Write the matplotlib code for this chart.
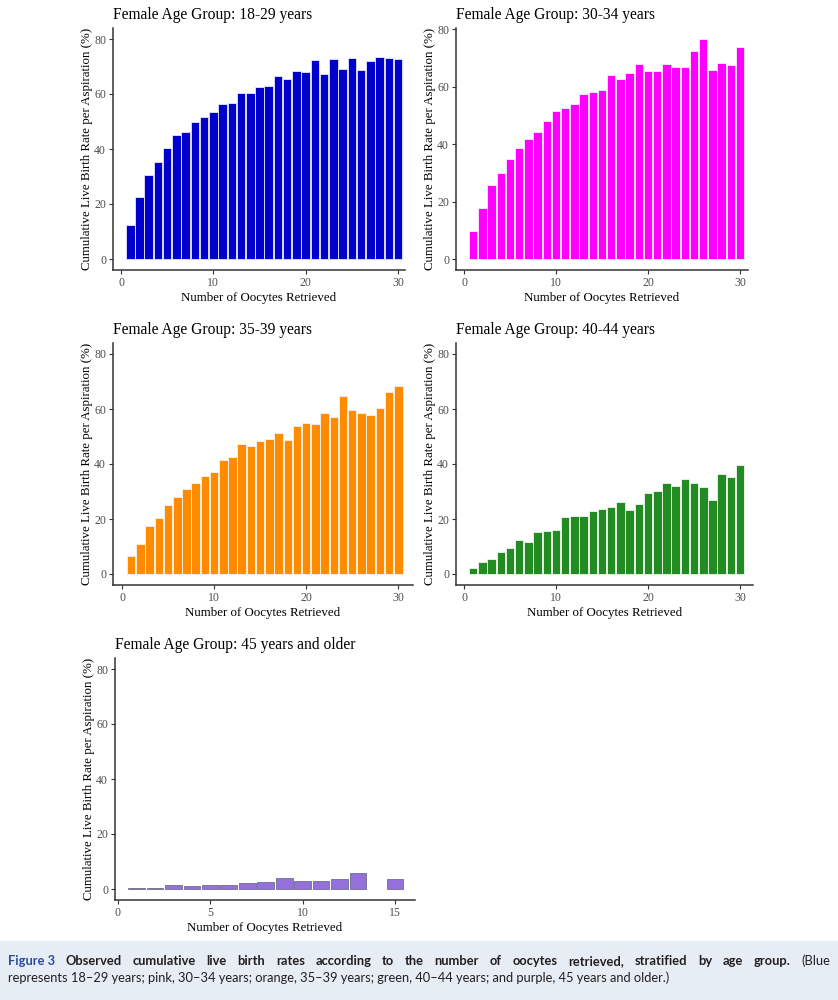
import matplotlib
matplotlib.use("Agg")
import matplotlib.pyplot as plt

# ---------------- data ----------------
x30 = list(range(1, 31))
rate_18_29 = [12.2, 22.7, 30.5, 35.2, 40.2, 45.2, 46.2, 49.9, 51.5, 53.5, 56.2, 56.8, 60.4, 60.4, 62.4,
              62.8, 66.5, 65.6, 68.5, 68.1, 72.2, 67.3, 72.6, 69.1, 73.2, 68.7, 72.0, 73.6, 73.2, 72.6]
rate_30_34 = [9.7, 17.7, 25.9, 30.1, 34.7, 38.7, 41.8, 44.2, 48.0, 51.4, 52.5, 53.8, 57.3, 58.2, 58.8,
              64.2, 62.5, 64.6, 67.8, 65.4, 65.4, 67.8, 66.9, 66.9, 72.3, 76.5, 65.7, 68.2, 67.5, 73.8]
rate_35_39 = [6.4, 11.0, 17.3, 20.2, 25.1, 27.9, 31.0, 33.0, 35.5, 37.1, 41.5, 42.4, 47.4, 46.4, 48.2,
              49.0, 51.2, 48.6, 53.7, 54.9, 54.5, 58.7, 57.1, 64.8, 59.8, 58.7, 57.7, 60.2, 66.2, 68.5]
rate_40_44 = [2.1, 4.2, 5.3, 8.0, 9.3, 12.2, 11.8, 15.3, 15.6, 16.0, 20.6, 21.0, 21.0, 22.8, 23.5,
              24.5, 26.1, 23.2, 25.5, 29.5, 30.1, 33.0, 31.9, 34.7, 33.2, 31.6, 26.9, 36.2, 35.3, 39.6]
x45 = [1, 2, 3, 4, 5, 6, 7, 8, 9, 10, 11, 12, 13, 15]
rate_45 = [0.2, 0.2, 1.4, 1.1, 1.4, 1.4, 2.2, 2.7, 4.1, 3.0, 3.0, 3.6, 5.8, 3.6]

titles = ["Female Age Group: 18-29 years", "Female Age Group: 30-34 years",
          "Female Age Group: 35-39 years", "Female Age Group: 40-44 years",
          "Female Age Group: 45 years and older"]
colors = ["#0000CD", "#FF00FF", "#FF8C00", "#228B22", "#9370DB"]
xlabel = "Number of Oocytes Retrieved"
ylabel = "Cumulative Live Birth Rate per Aspiration (%)"
yticks = [0, 20, 40, 60, 80]
xticks30 = [0, 10, 20, 30]
xticks15 = [0, 5, 10, 15]

# ---------------- layout ----------------
W, H = 838, 1000
fig = plt.figure(figsize=(W / 100, H / 100), dpi=100)
fig.patch.set_facecolor("white")

SERIF = ["Liberation Serif", "DejaVu Serif"]
SANS = ["Lato", "DejaVu Sans"]

# panel boxes in pixels: left, right, top, bottom, xlim, ylim
panels = [
    dict(box=(113, 405, 28, 270), xlim=(-0.87, 30.76), ylim=(-4.0, 84.0), x=x30, y=rate_18_29, xt=xticks30),
    dict(box=(456, 748, 28, 270), xlim=(-0.87, 30.87), ylim=(-3.8, 80.4), x=x30, y=rate_30_34, xt=xticks30),
    dict(box=(113, 413, 343, 585), xlim=(-0.98, 31.6), ylim=(-4.0, 84.0), x=x30, y=rate_35_39, xt=xticks30),
    dict(box=(456, 753, 343, 585), xlim=(-0.87, 31.4), ylim=(-4.0, 84.0), x=x30, y=rate_40_44, xt=xticks30),
    dict(box=(115, 415, 658, 900), xlim=(-0.16, 16.08), ylim=(-4.0, 84.0), x=x45, y=rate_45, xt=xticks15),
]

for i, p in enumerate(panels):
    l, r, t, b = p["box"]
    ax = fig.add_axes([l / W, 1 - b / H, (r - l) / W, (b - t) / H])
    if i < 4:
        ax.bar(p["x"], p["y"], width=0.92, color=colors[i], edgecolor="#E8E8FF" if i == 0 else "#F4F4F4",
               linewidth=0.6, zorder=2)
    else:
        ax.bar(p["x"], p["y"], width=0.9, color=colors[i], edgecolor="#6E6E8E", linewidth=0.6, zorder=2)
    ax.set_xlim(*p["xlim"])
    ax.set_ylim(*p["ylim"])
    ax.set_xticks(p["xt"])
    ax.set_yticks(yticks)
    for s in ["top", "right"]:
        ax.spines[s].set_visible(False)
    for s in ["left", "bottom"]:
        ax.spines[s].set_color("#333333")
        ax.spines[s].set_linewidth(1.1)
    ax.tick_params(axis="both", direction="out", length=3, width=0.8, color="#333333",
                   labelcolor="#4D4D4D", labelsize=8.5, pad=2)
    for lab in ax.get_xticklabels() + ax.get_yticklabels():
        lab.set_fontfamily(SERIF)
    ax.set_xlabel(xlabel, fontsize=9.3, family=SERIF, color="black", labelpad=2)
    ax.set_ylabel(ylabel, fontsize=9.3, family=SERIF, color="black", labelpad=1)
    ax.set_facecolor("white")
    fig.text(l / W, 1 - (t - 13) / H, titles[i], fontsize=11.2, family=SERIF, color="black",
             ha="left", va="center")

# ---------------- caption ----------------
cap_top = 941
fig.patches.append(plt.Rectangle((0, 0), 1, 1 - cap_top / H, transform=fig.transFigure,
                                 facecolor="#E7EDF5", edgecolor="none", zorder=0))

line1 = [("Figure 3", "bold", "#2D4C9A")]
for w in ("Observed cumulative live birth rates according to the number of oocytes "
          "retrieved, stratified by age group.").split():
    line1.append((w, "bold", "#231F20"))
line1.append(("(Blue", "normal", "#231F20"))
line2 = ("represents 18\u201329 years; pink, 30\u201334 years; orange, 35\u201339 years; "
         "green, 40\u201344 years; and purple, 45 years and older.)")

fig.canvas.draw()
renderer = fig.canvas.get_renderer()

fs = 9.3
fig.text(8 / W, 1 - 982 / H, line2, fontsize=fs, family=SANS, color="#231F20",
         ha="left", va="baseline")

texts = []
widths = []
for txt, wt, col in line1:
    tt = fig.text(0, 1 - 965 / H, txt, fontsize=fs, family=SANS, weight=wt, color=col,
                  ha="left", va="baseline")
    texts.append(tt)
    widths.append(tt.get_window_extent(renderer).width)
x0, x1 = 8, 830
gap = max(2.0, (x1 - x0 - sum(widths)) / (len(texts) - 1))
x = x0
for tt, wd in zip(texts, widths):
    tt.set_x(x / W)
    x += wd + gap

fig.savefig("out.png", dpi=100, facecolor="white")
